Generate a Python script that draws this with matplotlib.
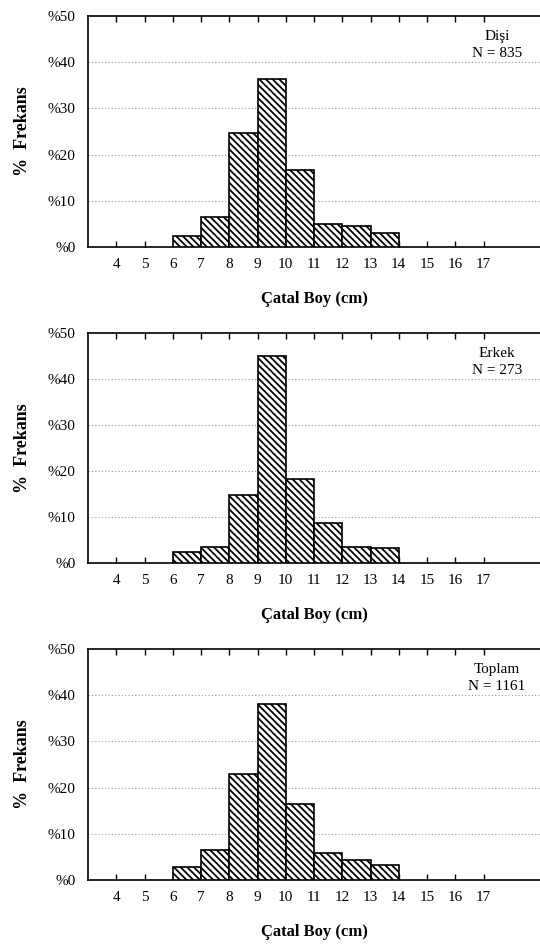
import matplotlib
matplotlib.use("Agg")
import matplotlib.pyplot as plt

plt.rcParams['font.family'] = ['Liberation Serif', 'DejaVu Serif']
plt.rcParams['hatch.linewidth'] = 1.3

# length classes (cm), bars span [k, k+1]
classes = [6, 7, 8, 9, 10, 11, 12, 13]
disi = [2.3, 6.6, 24.7, 36.4, 16.7, 5.0, 4.6, 3.1]
erkek = [2.4, 3.5, 14.8, 45.1, 18.3, 8.6, 3.5, 3.2]
toplam = [2.8, 6.4, 23.0, 38.1, 16.5, 5.9, 4.4, 3.3]

panels = [("Dişi", 835, disi), ("Erkek", 273, erkek), ("Toplam", 1161, toplam)]
xticks = list(range(4, 18))
yticks = [0, 10, 20, 30, 40, 50]
ytick_labels = ["%" + str(v) for v in yticks]

W, H = 540, 944
fig = plt.figure(figsize=(W / 100, H / 100), dpi=100)

# axes boxes in pixels: (top, bottom)
boxes = [(16, 247), (333, 563), (649, 880)]
left, right = 88, 540

for (name, n, vals), (top, bot) in zip(panels, boxes):
    ax = fig.add_axes([left / W, 1 - bot / H, (right - left) / W, (bot - top) / H])
    ax.bar(classes, vals, width=1.0, align='edge', color='white',
           edgecolor='black', linewidth=1.2, hatch='\\\\\\\\\\', zorder=3)
    ax.set_xlim(3, 19)
    ax.set_ylim(0, 50)
    ax.set_xticks(xticks)
    ax.set_xticklabels([str(v) for v in xticks])
    ax.set_yticks(yticks)
    ax.set_yticklabels(ytick_labels)
    ax.tick_params(axis='x', direction='in', length=4, width=1, top=True,
                   pad=8, labelsize=11)
    ax.tick_params(axis='y', length=0, pad=9, labelsize=11)
    for y in yticks[1:-1]:
        ax.axhline(y, color='#999999', linestyle=(0, (1, 2)), linewidth=0.8, zorder=1)
    for s in ['left', 'bottom', 'top']:
        ax.spines[s].set_linewidth(1.2)
    ax.spines['right'].set_visible(False)
    ax.set_xlabel("Çatal Boy (cm)", fontweight='bold', fontsize=12, labelpad=14)
    ax.set_ylabel("%  Frekans", fontweight='bold', fontsize=13, labelpad=12)
    ax.text(0.905, 0.94, name + "\nN = " + str(n), transform=ax.transAxes,
            ha='center', va='top', fontsize=11, linespacing=1.4, zorder=4)

fig.savefig("out.png", dpi=100)
